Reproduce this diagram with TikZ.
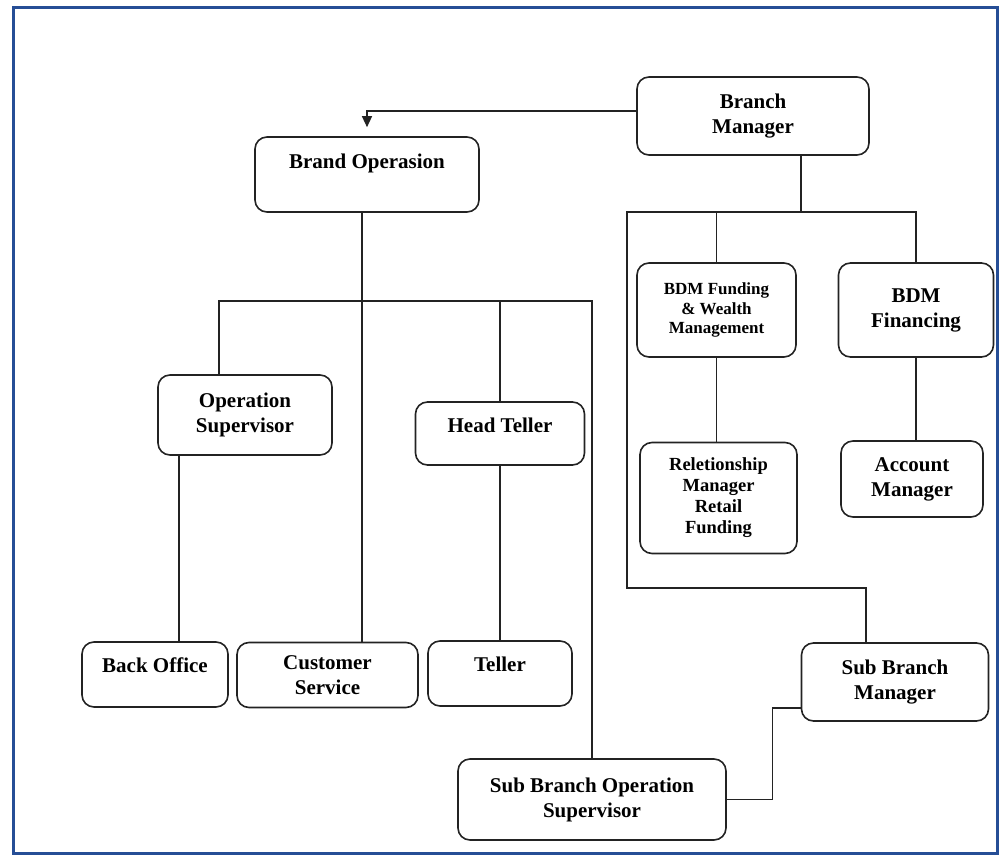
\documentclass[tikz,border=0pt]{standalone}
\usepackage{fontspec}
\setmainfont{Liberation Serif}
\usepackage{xcolor}
\usetikzlibrary{arrows.meta}
\usetikzlibrary{calc}
\definecolor{frameblue}{RGB}{38,78,150}
\definecolor{ink}{RGB}{35,35,35}

\begin{document}
\begin{tikzpicture}[x=1pt,y=-1pt,
    >={Triangle[width=10pt,length=11pt]},
    box/.style={draw=ink, line width=1.6pt, rounded corners=12pt, align=center,
      inner sep=0pt, font=\fontsize{21}{25}\selectfont\bfseries},
    lift/.style={text height=15pt, text depth=#1},
    link/.style={draw=ink, line width=1.3pt}]
      \useasboundingbox (0,0) rectangle (1001,856);
      \draw[frameblue, line width=3pt] (13,8) rectangle (997,853);

      \node[box, minimum width=232pt, minimum height=78pt] (bm) at (753,116) {Branch\\Manager};
      \node[box, lift=28pt, minimum width=224pt, minimum height=75pt] (bo) at (367,174.5) {Brand Operasion};
      \node[box, minimum width=159pt, minimum height=94pt,
        font=\fontsize{17}{19.5}\selectfont\bfseries] (bdmf) at (716.5,310) {BDM Funding\\\& Wealth\\Management};
      \node[box, minimum width=155pt, minimum height=94pt] (bdmfin) at (916,310) {BDM\\Financing};
      \node[box, minimum width=157pt, minimum height=111pt,
        font=\fontsize{18.5}{21}\selectfont\bfseries] (rm) at (718.5,498) {Reletionship\\Manager\\Retail\\Funding};
      \node[box, minimum width=142pt, minimum height=76pt] (am) at (912,479) {Account\\Manager};
      \node[box, minimum width=174pt, minimum height=80pt] (os) at (245,415) {Operation\\Supervisor};
      \node[box, lift=18pt, minimum width=169pt, minimum height=63pt] (ht) at (500,433.5) {Head Teller};
      \node[box, lift=19pt, minimum width=146pt, minimum height=65pt] (bko) at (155,674.5) {Back Office};
      \node[box, minimum width=181pt, minimum height=65pt] (cs) at (327.5,675) {Customer\\Service};
      \node[box, lift=19pt, minimum width=144pt, minimum height=65pt] (tl) at (500,673.5) {Teller};
      \node[box, minimum width=187pt, minimum height=78pt] (sbm) at (895,682) {Sub Branch\\Manager};
      \node[box, minimum width=268pt, minimum height=81pt] (sbos) at (592,799.5) {Sub Branch Operation\\Supervisor};

      \coordinate (rbus) at (801,212);
      \coordinate (lbus) at (362,301);
      \coordinate (sbmturn) at (627,588);

      \path[link,->] ([yshift=5pt]bm.west) -| ([yshift=9pt]bo.north);
      \path[link] ([xshift=48pt]bm.south) edge (rbus);
      \path[link] (bdmf.north) |- (rbus);
      \path[link] (bdmfin.north) |- (rbus);
      \path[link] (rbus) -| (sbmturn) -| ([xshift=-29pt]sbm.north);
      \path[link] (bdmf.south) edge (bdmf.south |- rm.north);
      \path[link] (bdmfin.south) edge (bdmfin.south |- am.north);

      \path[link] ([xshift=-5pt]bo.south) edge ([xshift=34.5pt]cs.north);
      \path[link] ([xshift=-26pt]os.north) |- (lbus) -| (sbos.north);
      \path[link] (ht.north) edge (ht.north |- lbus);
      \path[link] ([xshift=-66pt]os.south) edge ([xshift=24pt]bko.north);
      \path[link] (ht) edge (tl);
      \path[link] (sbos.east) -- ++(46,0) |- ([yshift=-26pt]sbm.west);
    \end{tikzpicture}
\end{document}
